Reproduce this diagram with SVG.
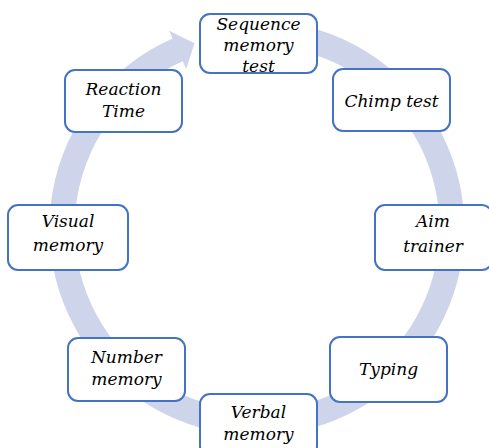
<svg xmlns="http://www.w3.org/2000/svg" width="489" height="448" viewBox="0 0 489 448">
  <style>
    .ring { fill: #CED4EA; }
    .box rect { fill: #FFFFFF; stroke: #4472C4; stroke-width: 2; }
    .box text { font-family: "DejaVu Serif", "Liberation Serif", serif; font-style: italic; font-size: 17px; fill: #000000; text-anchor: middle; }
  </style>

  <!-- Circular arrow running clockwise behind the steps, head pointing at the first step -->
  <g id="connectors">
    <path class="ring" d="M257 20.5 A207.5 207.5 0 1 1 172.6 38.4 L169.2 30.7 L194.5 43.3 L186.2 69.1 L182.8 61.3 A182.5 182.5 0 1 0 257 45.5 Z"/>
  </g>

  <g id="sequence-memory-test" class="box">
    <rect x="200" y="14" width="117" height="59" rx="10"/>
    <text x="258.5" y="30">Sequence</text>
    <text x="258.5" y="51">memory</text>
    <text x="258.5" y="72">test</text>
  </g>

  <g id="chimp-test" class="box">
    <rect x="333" y="69" width="117" height="62" rx="10"/>
    <text x="391.5" y="106.5">Chimp test</text>
  </g>

  <g id="aim-trainer" class="box">
    <rect x="375" y="205" width="117" height="65" rx="10"/>
    <text x="433" y="227">Aim</text>
    <text x="433" y="252">trainer</text>
  </g>

  <g id="typing" class="box">
    <rect x="330" y="337" width="117" height="65" rx="10"/>
    <text x="388.5" y="375">Typing</text>
  </g>

  <g id="verbal-memory" class="box">
    <rect x="200" y="394" width="117" height="62" rx="10"/>
    <text x="258.5" y="418">Verbal</text>
    <text x="258.5" y="440">memory</text>
  </g>

  <g id="number-memory" class="box">
    <rect x="68" y="338" width="117" height="63" rx="10"/>
    <text x="126.5" y="363">Number</text>
    <text x="126.5" y="385">memory</text>
  </g>

  <g id="visual-memory" class="box">
    <rect x="8" y="205" width="120" height="65" rx="10"/>
    <text x="68" y="227">Visual</text>
    <text x="68" y="251">memory</text>
  </g>

  <g id="reaction-time" class="box">
    <rect x="65" y="70" width="117" height="62" rx="10"/>
    <text x="123.5" y="95">Reaction</text>
    <text x="123.5" y="117">Time</text>
  </g>
</svg>
